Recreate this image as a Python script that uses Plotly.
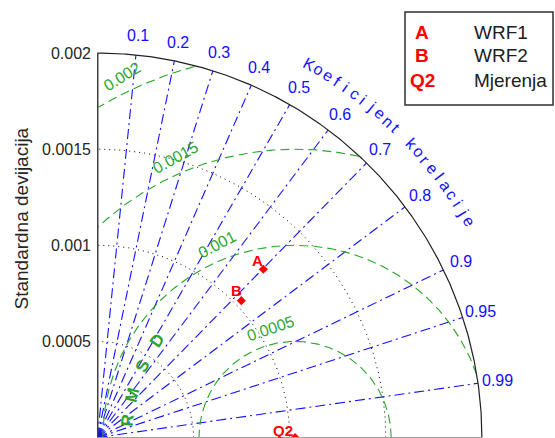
import numpy as np
import plotly.graph_objects as go

# data
model_labels = ['A', 'B']
model_names = ['WRF1', 'WRF2']
model_std = [0.001229, 0.001033]
model_corr = [0.702, 0.7245]
ref_label = 'Q2'
ref_name = 'Mjerenja'
ref_std = 0.001028

std_ticks = [0, 0.0005, 0.001, 0.0015, 0.002]
std_ticktext = ['0', '0.0005', '0.001', '0.0015', '0.002']
corr_ticks = [0.1, 0.2, 0.3, 0.4, 0.5, 0.6, 0.7, 0.8, 0.9, 0.95, 0.99]
corr_ticktext = ['0.1', '0.2', '0.3', '0.4', '0.5', '0.6', '0.7', '0.8', '0.9', '0.95', '0.99']
rmsd_ticks = [0.0005, 0.001, 0.0015, 0.002]
rmsd_ticktext = ['0.0005', '0.001', '0.0015', '0.002']

# styling / layout
font_family = 'Liberation Sans, Arial, sans-serif'
W, H = 555, 438
ml = 97
S = 192200.0  # px per unit
rmax = 0.002
blue = '#1010ff'
green = '#2aa52a'
red = '#ff0000'
rmsd_label_angles = [102.7, 112.0, 113.1, 115.6]
rmsd_letter_angles = [174.1, 165.4, 155.0, 144.8]


def px_x(p):
    return (p - ml) / (W - ml)


def px_y(p):
    return 1 - p / H


fig = go.Figure()

# std dotted arcs
th = np.linspace(0, np.pi / 2, 300)
for s in std_ticks[1:-1]:
    fig.add_trace(go.Scatter(x=s * np.cos(th), y=s * np.sin(th), mode='lines',
                             line=dict(color='black', width=1, dash='1px,4px'),
                             hoverinfo='skip', showlegend=False))

# correlation rays
for c in corr_ticks:
    fig.add_trace(go.Scatter(x=[0, rmax * c], y=[0, rmax * np.sqrt(1 - c * c)], mode='lines',
                             line=dict(color=blue, width=1.1, dash='10px,4px,2px,4px'),
                             hoverinfo='skip', showlegend=False))

# rmsd circles
t = np.linspace(0, np.pi, 600)
for r in rmsd_ticks:
    x = ref_std + r * np.cos(t)
    y = r * np.sin(t)
    bad = (x < 0) | (x * x + y * y > rmax * rmax)
    x = np.where(bad, np.nan, x)
    y = np.where(bad, np.nan, y)
    fig.add_trace(go.Scatter(x=x, y=y, mode='lines', connectgaps=False,
                             line=dict(color=green, width=1.1, dash='9px,5px'),
                             hoverinfo='skip', showlegend=False))

# outer arc and axes
fig.add_trace(go.Scatter(x=rmax * np.cos(th), y=rmax * np.sin(th), mode='lines',
                         line=dict(color='#202020', width=1.2), hoverinfo='skip', showlegend=False))
fig.add_shape(type='line', x0=0, y0=0, x1=0, y1=rmax, line=dict(color='#404040', width=2))
fig.add_shape(type='line', x0=0, y0=0, x1=rmax, y1=0, line=dict(color='#a0a0a0', width=1))

# points
mx = [s * c for s, c in zip(model_std, model_corr)]
my = [s * np.sqrt(1 - c * c) for s, c in zip(model_std, model_corr)]
fig.add_trace(go.Scatter(x=mx + [ref_std], y=my + [0], mode='markers',
                         marker=dict(symbol='diamond', size=7, color=red),
                         hoverinfo='skip', showlegend=False))
label_shift = [(-6, 9), (-5, 10)]
for lab, x, y, (dx, dy) in zip(model_labels, mx, my, label_shift):
    fig.add_annotation(x=x, y=y, text='<b>' + lab + '</b>', showarrow=False, xshift=dx, yshift=dy,
                       font=dict(color=red, size=15, family=font_family))
fig.add_annotation(x=ref_std, y=0, text='<b>' + ref_label + '</b>', showarrow=False, xshift=-12, yshift=7,
                   font=dict(color=red, size=15, family=font_family))

# correlation tick labels
for c, txt in zip(corr_ticks, corr_ticktext):
    a = np.arccos(c)
    fig.add_annotation(x=1.05 * rmax * np.cos(a), y=1.05 * rmax * np.sin(a), text=txt, showarrow=False,
                       font=dict(color=blue, size=16, family=font_family))

# correlation title along the arc
title = 'Koeficijent korelacije'
rt = 429.5 / S
angs = np.linspace(60.4, 30.15, len(title))
for ch, a in zip(title, angs):
    if ch == ' ':
        continue
    ar = np.radians(a)
    fig.add_annotation(x=rt * np.cos(ar), y=rt * np.sin(ar), text=ch, showarrow=False, textangle=90 - a,
                       font=dict(color=blue, size=16, family=font_family))

# rmsd labels
off = 16 / S
for r, txt, a in zip(rmsd_ticks, rmsd_ticktext, rmsd_label_angles):
    ar = np.radians(a)
    fig.add_annotation(x=ref_std + (r + off) * np.cos(ar), y=(r + off) * np.sin(ar), text=txt,
                       showarrow=False, textangle=-(a - 90) - 6,
                       font=dict(color=green, size=16, family=font_family))
rl = 168.6 / S
for ch, a in zip('RMSD', rmsd_letter_angles):
    ar = np.radians(a)
    fig.add_annotation(x=ref_std + rl * np.cos(ar), y=rl * np.sin(ar), text='<b>' + ch + '</b>',
                       showarrow=False, textangle=90 - a,
                       font=dict(color=green, size=17, family=font_family))

# y title
fig.add_annotation(text='Standardna devijacija', xref='paper', yref='paper', x=px_x(20.5), y=0.5,
                   textangle=-90, showarrow=False, xanchor='center', yanchor='middle',
                   font=dict(color='#262626', size=19, family=font_family))

# legend box
fig.add_shape(type='rect', xref='paper', yref='paper', x0=px_x(405), x1=px_x(553), y0=px_y(105), y1=px_y(12),
              line=dict(color='#303030', width=1.5), fillcolor='white')
leg_y = [32.3, 55, 80]
for lab, name, py in zip(model_labels + [ref_label], model_names + [ref_name], leg_y):
    fig.add_annotation(text='<b>' + lab + '</b>', xref='paper', yref='paper', x=px_x(422), y=px_y(py),
                       showarrow=False, xanchor='center', yanchor='middle',
                       font=dict(color=red, size=19, family=font_family))
    fig.add_annotation(text=name, xref='paper', yref='paper', x=px_x(471.7), y=px_y(py),
                       showarrow=False, xanchor='left', yanchor='middle',
                       font=dict(color='#202020', size=19, family=font_family))

fig.update_xaxes(visible=False, range=[-0.5 / S, (W - ml - 0.5) / S], fixedrange=True)
fig.update_yaxes(range=[-0.5 / S, (H - 0.5) / S], tickvals=std_ticks, ticktext=std_ticktext,
                 showgrid=False, zeroline=False, showline=False, ticks='', ticklabelstandoff=5,
                 tickfont=dict(size=16, color='#262626', family=font_family), fixedrange=True)
fig.update_layout(width=W, height=H, margin=dict(l=ml, r=0, t=0, b=0, pad=0),
                  paper_bgcolor='white', plot_bgcolor='white', showlegend=False)

fig.write_html('out.html', config={'displayModeBar': False},
               post_script="document.body.style.margin='0';document.body.style.overflow='hidden';")
